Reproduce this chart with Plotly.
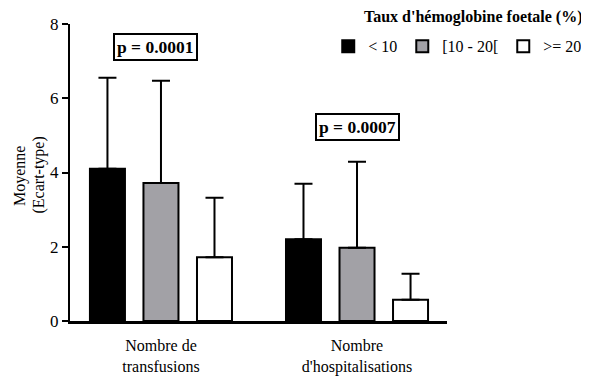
import plotly.graph_objects as go

categories = ["Nombre de<br>transfusions", "Nombre<br>d'hospitalisations"]
series_names = ["< 10", "[10 - 20[", ">= 20"]
means_lt10 = [4.1, 2.2]
sd_lt10 = [2.45, 1.5]
means_10_20 = [3.72, 1.97]
sd_10_20 = [2.75, 2.32]
means_ge20 = [1.72, 0.57]
sd_ge20 = [1.6, 0.7]
p_values = ["p = 0.0001", "p = 0.0007"]
p_y = [7.37, 5.23]
legend_title = "Taux d'hémoglobine foetale (%)"
y_title_lines = ["Moyenne", "(Ecart-type)"]

fills = ["#000000", "#a2a1a6", "#ffffff"]
p_xshift = [-5, 0]
y_title_x = [-0.1313, -0.0822]
FONT = "Liberation Serif"

fig = go.Figure()
for name, m, s, c in zip(series_names, [means_lt10, means_10_20, means_ge20],
                         [sd_lt10, sd_10_20, sd_ge20], fills):
    fig.add_trace(go.Bar(
        x=categories, y=m, name=name,
        marker=dict(color=c, line=dict(color="black", width=2)),
        error_y=dict(type="data", array=s, arrayminus=[0] * len(s), symmetric=False,
                     color="black", thickness=2, width=9),
    ))

for cat, txt, yy, xs in zip(categories, p_values, p_y, p_xshift):
    fig.add_annotation(x=cat, y=yy, text="<b>" + txt + "</b>", showarrow=False,
                       font=dict(family=FONT, size=17.5, color="black"),
                       bordercolor="black", borderwidth=2, borderpad=2,
                       bgcolor="white", xshift=xs, yanchor="middle")

fig.add_annotation(xref="paper", yref="paper", x=1.366, xanchor="right",
                   y=1.024, yanchor="middle", showarrow=False,
                   text="<b>" + legend_title + "</b>",
                   font=dict(family=FONT, size=16, color="black"))

for line, xp in zip(y_title_lines, y_title_x):
    fig.add_annotation(xref="paper", yref="paper", x=xp, xanchor="center",
                       y=0.49, yanchor="middle", showarrow=False, textangle=-90,
                       text=line, font=dict(family=FONT, size=16, color="black"))

# the page body adds an 8px margin, so the figure is 8px smaller and offsets reduced
fig.update_layout(
    width=581, height=368,
    margin=dict(l=62, r=142, t=16, b=55, autoexpand=False),
    paper_bgcolor="white", plot_bgcolor="white",
    font=dict(family=FONT, size=15, color="black"),
    barmode="group", bargap=0.181, bargroupgap=0.346,
    showlegend=True,
    legend=dict(orientation="h", x=0.685, xanchor="left", y=0.982, yanchor="top",
                font=dict(family=FONT, size=16), itemwidth=30,
                traceorder="normal", bgcolor="rgba(0,0,0,0)"),
    xaxis=dict(range=[-0.464, 1.459], showline=True, linecolor="black", linewidth=3,
               ticks="", showgrid=False, zeroline=False, ticklabelstandoff=8,
               tickfont=dict(family=FONT, size=16)),
    yaxis=dict(range=[0, 8], tickvals=[0, 2, 4, 6, 8], showline=True, linecolor="black",
               linewidth=2, ticks="outside", ticklen=6, tickwidth=2, tickcolor="black",
               showgrid=False, zeroline=False, tickfont=dict(family=FONT, size=17)),
)

fig.write_html("out.html")
